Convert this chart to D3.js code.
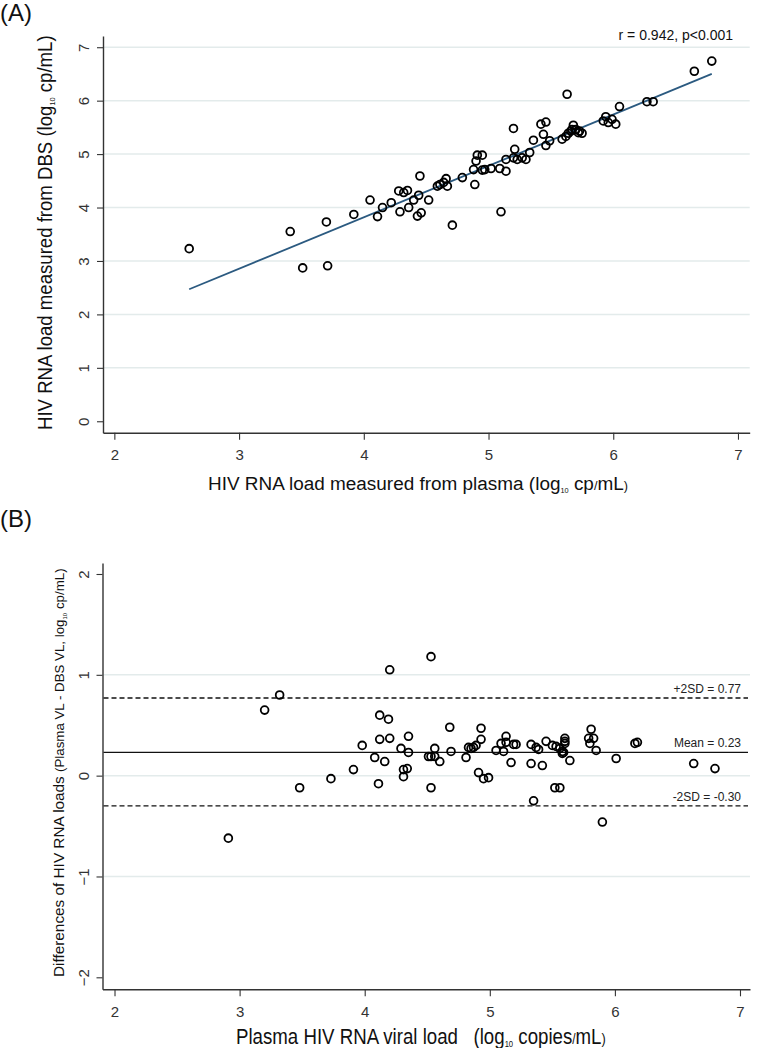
<!DOCTYPE html>
<html>
<head>
<meta charset="utf-8">
<script src="https://cdn.jsdelivr.net/npm/d3@7"></script>
<style>
  body { margin: 0; background: #fff; }
  svg { display: block; font-family: "Liberation Sans", Arial, sans-serif; }
</style>
</head>
<body>
<svg width="758" height="1048"></svg>
<script>
// panel A: plasma vs DBS (log10 cp/mL)
const plasmaA = [2.60, 3.41, 3.51, 3.70, 3.71, 3.92, 4.05, 4.11, 4.15, 4.22, 4.28, 4.32, 4.35, 4.29, 4.36,
    4.40, 4.44, 4.45, 4.43, 4.46, 4.52, 4.59, 4.61, 4.64, 4.66, 4.67, 4.71, 4.79, 4.89, 4.88, 4.90, 4.91,
    4.95, 4.95, 4.97, 5.02, 5.09, 5.10, 5.14, 5.14, 5.20, 5.21, 5.20, 5.23, 5.27, 5.30, 5.33, 5.36, 5.42,
    5.46, 5.44, 5.46, 5.49, 5.63, 5.59, 5.62, 5.64, 5.66, 5.68, 5.67, 5.70, 5.72, 5.75, 5.73, 5.92, 5.94,
    5.96, 5.99, 6.02, 6.05, 6.27, 6.32, 6.65, 6.79];
const dbsA = [3.23, 3.55, 2.87, 3.73, 2.91, 3.87, 4.14, 3.83, 4.00, 4.09, 4.31, 4.28, 4.32, 3.92, 4.00,
    4.14, 4.23, 4.59, 3.84, 3.90, 4.14, 4.40, 4.43, 4.47, 4.54, 4.40, 3.67, 4.56, 4.43, 4.71, 4.87, 4.98,
    4.98, 4.70, 4.71, 4.73, 4.73, 3.92, 4.68, 4.90, 5.48, 5.09, 4.93, 4.90, 4.93, 4.90, 5.03, 5.26, 5.56,
    5.60, 5.37, 5.16, 5.25, 6.12, 5.28, 5.33, 5.39, 5.43, 5.54, 5.46, 5.46, 5.40, 5.39, 5.43, 5.62, 5.70,
    5.59, 5.65, 5.56, 5.89, 5.98, 5.98, 6.55, 6.74];
const fitX = [2.60, 6.79];
const fitY = [2.47, 6.50];
const corrLabel = "r = 0.942, p<0.001";

// panel B: Bland-Altman differences
const plasmaB = [2.91, 3.20, 3.32, 3.48, 3.73, 3.91, 3.98, 4.08, 4.11, 4.12, 4.12, 4.19, 4.20, 4.20, 4.16,
    4.29, 4.35, 4.35, 4.31, 4.34, 4.31, 4.53, 4.53, 4.51, 4.53, 4.56, 4.56, 4.60, 4.68, 4.69, 4.81, 4.83,
    4.85, 4.87, 4.89, 4.93, 4.93, 4.91, 4.95, 4.99, 5.05, 5.09, 5.11, 5.13, 5.13, 5.17, 5.19, 5.21, 5.33,
    5.37, 5.39, 5.33, 5.42, 5.35, 5.45, 5.50, 5.53, 5.56, 5.58, 5.60, 5.60, 5.60, 5.58, 5.59, 5.64, 5.52,
    5.56, 5.81, 5.79, 5.83, 5.80, 5.85, 5.90, 6.01, 6.16, 6.18, 6.63, 6.80];
const diffB = [-0.62, 0.65, 0.80, -0.12, -0.03, 0.06, 0.30, 0.18, -0.08, 0.36, 0.60, 0.56, 1.05, 0.37, 0.14,
    0.27, 0.39, 0.23, 0.06, 0.07, -0.01, 1.18, -0.12, 0.19, 0.19, 0.19, 0.27, 0.14, 0.48, 0.24, 0.18, 0.28,
    0.27, 0.28, 0.30, 0.47, 0.36, 0.03, -0.03, -0.02, 0.25, 0.32, 0.24, 0.39, 0.33, 0.13, 0.31, 0.31, 0.31,
    0.28, 0.26, 0.12, 0.10, -0.25, 0.34, 0.30, 0.29, 0.27, 0.24, 0.37, 0.34, 0.32, 0.22, 0.23, 0.15, -0.12,
    -0.12, 0.46, 0.37, 0.37, 0.32, 0.25, -0.46, 0.17, 0.32, 0.33, 0.12, 0.07];
const limitValues = [0.77, 0.23, -0.30];
const limitLabels = ["+2SD = 0.77", "Mean = 0.23", "-2SD = -0.30"];

const xTicks = [2, 3, 4, 5, 6, 7];
const yTicksA = [0, 1, 2, 3, 4, 5, 6, 7];
const gridA = [1, 2, 3, 4, 5, 6, 7];
const yTicksB = [-2, -1, 0, 1, 2];
const gridB = [-1, 0, 1];

const svg = d3.select('svg');
const axisColor = '#333';
const gridColor = '#e3ebeb';

function styleAxis(g) {
    g.select('.domain').attr('stroke', axisColor).attr('stroke-width', 1.4);
    g.selectAll('.tick line').attr('stroke', axisColor).attr('stroke-width', 1.1);
    g.selectAll('.tick text').attr('fill', '#333').attr('font-size', 15);
}

function drawCircles(g, xs, ys, x, y) {
    g.selectAll('.pt')
        .data(xs.map((v, i) => [v, ys[i]]))
        .enter()
        .append('circle')
        .classed('pt', true)
        .attr('cx', d => x(d[0]))
        .attr('cy', d => y(d[1]))
        .attr('r', 3.9)
        .attr('fill', 'none')
        .attr('stroke', '#000')
        .attr('stroke-width', 1.8);
}

// squeeze a label to the narrow look of the original, keeping its height
function fitLabel(t, x, y, width, rot) {
    const len = t.node().getComputedTextLength();
    t.attr('x', 0).attr('y', 0)
        .attr('transform', 'translate(' + x + ',' + y + ')' + (rot ? ' rotate(-90)' : '') +
            ' scale(' + (width / len) + ',1)');
}

// ---------- panel A ----------
const xA = d3.scaleLinear().domain([1.909, 7.094]).range([103, 749.7]);
const yA = d3.scaleLinear().domain([-0.214, 7.21]).range([432.7, 36]);

svg.append('text').attr('x', 0).attr('y', 21).attr('font-size', 24).attr('fill', '#111').text('(A)');

svg.append('g').selectAll('line')
    .data(gridA)
    .enter()
    .append('line')
    .attr('x1', 104).attr('x2', 749.7)
    .attr('y1', d => yA(d)).attr('y2', d => yA(d))
    .attr('stroke', gridColor).attr('stroke-width', 1.5);

const axAx = svg.append('g')
    .attr('transform', 'translate(0,' + yA.range()[0] + ')')
    .call(d3.axisBottom(xA).tickValues(xTicks).tickFormat(d3.format('d'))
        .tickSize(7).tickSizeOuter(0).tickPadding(10));
styleAxis(axAx);

const axAy = svg.append('g')
    .attr('transform', 'translate(' + xA.range()[0] + ',0)')
    .call(d3.axisLeft(yA).tickValues(yTicksA).tickFormat(d3.format('d'))
        .tickSize(6).tickSizeOuter(0));
styleAxis(axAy);
axAy.selectAll('.tick text')
    .attr('transform', 'rotate(-90)')
    .attr('x', 0).attr('y', -14)
    .attr('dy', '0')
    .attr('text-anchor', 'middle');

svg.append('line')
    .attr('x1', xA(fitX[0])).attr('y1', yA(fitY[0]))
    .attr('x2', xA(fitX[1])).attr('y2', yA(fitY[1]))
    .attr('stroke', '#2b5a80').attr('stroke-width', 1.8);

drawCircles(svg.append('g'), plasmaA, dbsA, xA, yA);

svg.append('text')
    .attr('x', 733).attr('y', 40)
    .attr('text-anchor', 'end').attr('font-size', 14).attr('fill', '#111')
    .text(corrLabel);

const xlabA = svg.append('text').attr('font-size', 18).attr('fill', '#111');
xlabA.append('tspan').text('HIV RNA load measured from plasma (log');
xlabA.append('tspan').attr('font-size', 7).attr('dy', 3).text('10');
xlabA.append('tspan').attr('dy', -3).text(' cp');
xlabA.append('tspan').attr('font-size', 12).text('/');
xlabA.append('tspan').text('mL');
xlabA.append('tspan').attr('font-size', 12).text(')');
fitLabel(xlabA, 208, 490, 420, false);

const ylabA = svg.append('text').attr('font-size', 20).attr('fill', '#111');
ylabA.append('tspan').text('HIV RNA load measured from DBS (log');
ylabA.append('tspan').attr('font-size', 8).attr('dy', 3).text('10');
ylabA.append('tspan').attr('dy', -3).text(' cp/mL)');
fitLabel(ylabA, 52, 430, 395, true);

// ---------- panel B ----------
const xB = d3.scaleLinear().domain([1.904, 7.08]).range([102.5, 750]);
const yB = d3.scaleLinear().domain([-2.119, 2.109]).range([989.3, 563]);

svg.append('text').attr('x', 0).attr('y', 527).attr('font-size', 24).attr('fill', '#111').text('(B)');

svg.append('g').selectAll('line')
    .data(gridB)
    .enter()
    .append('line')
    .attr('x1', 103.5).attr('x2', 750)
    .attr('y1', d => yB(d)).attr('y2', d => yB(d))
    .attr('stroke', gridColor).attr('stroke-width', 1.5);

const axBx = svg.append('g')
    .attr('transform', 'translate(0,' + yB.range()[0] + ')')
    .call(d3.axisBottom(xB).tickValues(xTicks).tickFormat(d3.format('d'))
        .tickSize(7).tickSizeOuter(0).tickPadding(10));
styleAxis(axBx);

const axBy = svg.append('g')
    .attr('transform', 'translate(' + xB.range()[0] + ',0)')
    .call(d3.axisLeft(yB).tickValues(yTicksB).tickFormat(d3.format('d'))
        .tickSize(6).tickSizeOuter(0));
styleAxis(axBy);
axBy.selectAll('.tick text')
    .attr('transform', 'rotate(-90)')
    .attr('x', 0).attr('y', -14)
    .attr('dy', '0')
    .attr('text-anchor', 'middle');

svg.append('g').selectAll('line')
    .data(limitValues)
    .enter()
    .append('line')
    .attr('x1', 103.5).attr('x2', 748)
    .attr('y1', d => yB(d)).attr('y2', d => yB(d))
    .attr('stroke', '#111').attr('stroke-width', 1.3)
    .attr('stroke-dasharray', (d, i) => i == 1 ? null : '5,3');

svg.append('g').selectAll('text')
    .data(limitValues)
    .enter()
    .append('text')
    .attr('x', 741)
    .attr('y', d => yB(d) - 5)
    .attr('text-anchor', 'end').attr('font-size', 12).attr('fill', '#222')
    .text((d, i) => limitLabels[i]);

drawCircles(svg.append('g'), plasmaB, diffB, xB, yB);

const xlabB = svg.append('text').attr('font-size', 22).attr('fill', '#111');
xlabB.append('tspan').text('Plasma HIV RNA viral load\u00a0\u00a0 (log');
xlabB.append('tspan').attr('font-size', 9).attr('dy', 3).text('10');
xlabB.append('tspan').attr('dy', -3).text(' copies');
xlabB.append('tspan').attr('font-size', 14).text('/');
xlabB.append('tspan').text('mL');
xlabB.append('tspan').attr('font-size', 15).text(')');
fitLabel(xlabB, 236, 1044, 370, false);

const ylabB = svg.append('text').attr('font-size', 15).attr('fill', '#111');
ylabB.append('tspan').text('Differences of HIV RNA loads ');
ylabB.append('tspan').attr('font-size', 13).text('(Plasma VL - DBS VL, log');
ylabB.append('tspan').attr('font-size', 6).attr('dy', 3).text('10');
ylabB.append('tspan').attr('font-size', 13).attr('dy', -3).text(' cp/mL)');
fitLabel(ylabB, 64, 977, 409, true);
</script>
</body>
</html>
